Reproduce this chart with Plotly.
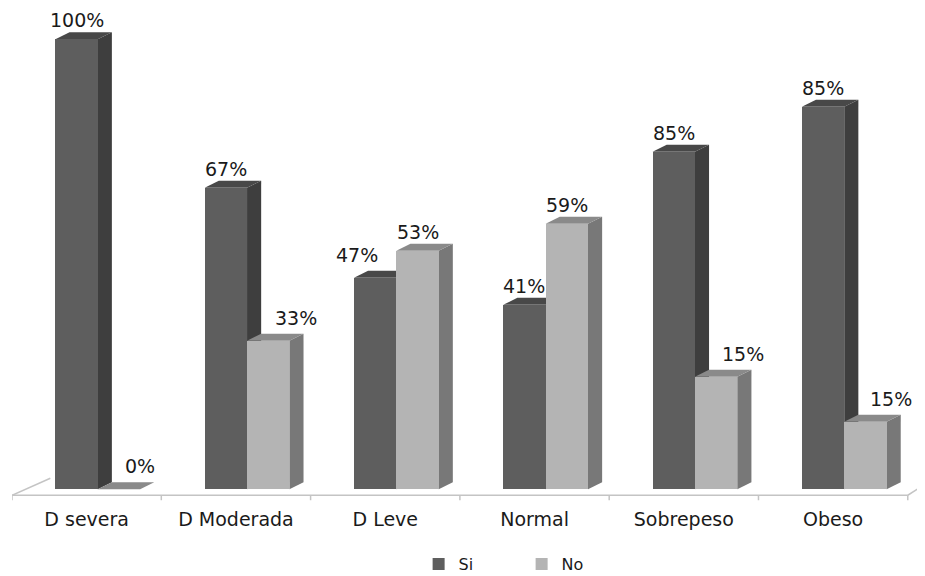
import plotly.graph_objects as go

categories = ["D severa", "D Moderada", "D Leve", "Normal", "Sobrepeso", "Obeso"]
si_values = [100, 67, 47, 41, 75, 85]
no_values = [0, 33, 53, 59, 25, 15]
si_labels = ["100%", "67%", "47%", "41%", "85%", "85%"]
no_labels = ["0%", "33%", "53%", "59%", "15%", "15%"]

# label placement style (pixel nudges, as in the reference)
si_label_dx = [0, 0, -18, 0, 0, 0]
no_label_dx = [21, 28, 0, 0, 27, 26]

# geometry (px -> data units)
PX_X = 148.0   # pixels per category
PX_Y = 4.5     # pixels per percent
face_w = 42 / PX_X
dx = 14 / PX_X
dy = 7 / PX_Y
si_off = -10 / PX_X
no_off = 32 / PX_X

SI_FACE, SI_SIDE, SI_TOP = "#5e5e5e", "#3e3e3e", "#484848"
NO_FACE, NO_SIDE, NO_TOP = "#b4b4b4", "#787878", "#8a8a8a"
FLOOR = "#c4c4c4"
FONT = "DejaVu Sans"
TXT = "#1a1a1a"

fig = go.Figure()
xs = list(range(len(categories)))
fig.add_trace(go.Bar(name="Si", x=[i + si_off for i in xs], y=si_values, width=face_w,
                     marker=dict(color=SI_FACE, line=dict(width=0))))
fig.add_trace(go.Bar(name="No", x=[i + no_off for i in xs], y=no_values, width=face_w,
                     marker=dict(color=NO_FACE, line=dict(width=0))))

shapes = []
def box(xc, v, side_c, top_c):
    x0 = xc - face_w / 2
    x1 = xc + face_w / 2
    if v > 0:
        shapes.append(dict(type="path", xref="x", yref="y", layer="below",
                           path=f"M {x1},0 L {x1+dx},{dy} L {x1+dx},{v+dy} L {x1},{v} Z",
                           fillcolor=side_c, line=dict(width=0)))
    shapes.append(dict(type="path", xref="x", yref="y", layer="below",
                       path=f"M {x0},{v} L {x0+dx},{v+dy} L {x1+dx},{v+dy} L {x1},{v} Z",
                       fillcolor=top_c, line=dict(width=0)))

for i in xs:
    box(i + si_off, si_values[i], SI_SIDE, SI_TOP)
    box(i + no_off, no_values[i], NO_SIDE, NO_TOP)

# floor
fy = -6 / PX_Y
n = len(categories)
shapes.append(dict(type="line", xref="x", yref="y", x0=-0.5, x1=n - 0.5, y0=fy, y1=fy,
                   line=dict(color=FLOOR, width=1.5)))
shapes.append(dict(type="line", xref="x", yref="y", x0=-0.5, x1=-0.5 + 38 / PX_X, y0=fy, y1=fy + 17 / PX_Y,
                   line=dict(color=FLOOR, width=1.5)))
shapes.append(dict(type="line", xref="x", yref="y", x0=n - 0.5, x1=n - 0.5 + 30 / PX_X, y0=fy, y1=fy + 19 / PX_Y,
                   line=dict(color=FLOOR, width=1.5)))
for k in range(n + 1):
    shapes.append(dict(type="line", xref="x", yref="y", x0=k - 0.5, x1=k - 0.5, y0=fy, y1=fy - 5 / PX_Y,
                       line=dict(color=FLOOR, width=1.5)))

annotations = []
for i in xs:
    annotations.append(dict(x=i + si_off, y=si_values[i], text=si_labels[i], showarrow=False,
                            yanchor="bottom", xshift=si_label_dx[i], yshift=6 + (4 if si_label_dx[i] else 0),
                            font=dict(family=FONT, size=19, color=TXT)))
    annotations.append(dict(x=i + no_off, y=no_values[i], text=no_labels[i], showarrow=False,
                            yanchor="bottom", xshift=no_label_dx[i], yshift=6 + (4 if no_label_dx[i] else 0),
                            font=dict(family=FONT, size=19, color=TXT)))

fig.update_layout(
    width=925, height=576,
    margin=dict(l=4, r=0, t=11, b=79, autoexpand=False),
    paper_bgcolor="white", plot_bgcolor="white",
    barmode="overlay", bargap=0,
    shapes=shapes, annotations=annotations,
    showlegend=True,
    legend=dict(orientation="h", x=0.4415, xanchor="left", y=-0.1214, yanchor="middle",
                font=dict(family=FONT, size=16, color=TXT), entrywidth=58, traceorder="normal"),
    xaxis=dict(range=[-0.5, n - 0.5 + 25 / PX_X], tickmode="array", tickvals=xs, ticktext=categories,
               showgrid=False, zeroline=False, showline=False, ticks="",
               tickfont=dict(family=FONT, size=19, color=TXT), ticklabelstandoff=1),
    yaxis=dict(range=[-3.5, 104.5], visible=False, showgrid=False, zeroline=False),
)

fig.write_html("out.html")
